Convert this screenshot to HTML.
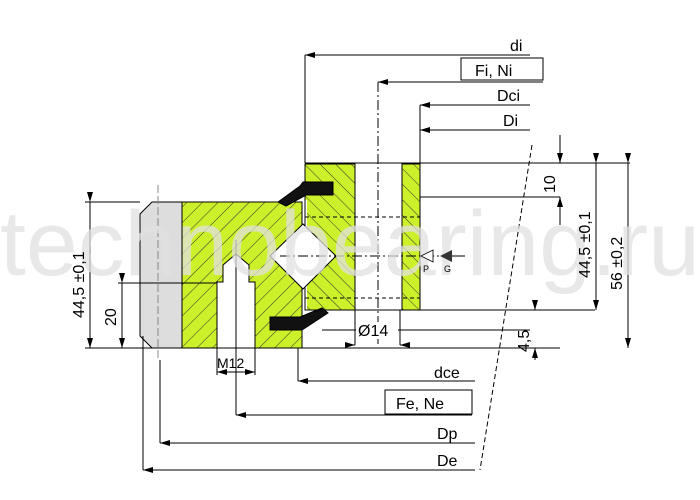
<!DOCTYPE html>
<html><head><style>body{margin:0;background:#fff}svg{display:block}</style></head><body>
<svg width="700" height="500" viewBox="0 0 700 500" xmlns="http://www.w3.org/2000/svg" font-family="Liberation Sans, sans-serif">
<defs>
<pattern id="h" width="11" height="11" patternUnits="userSpaceOnUse" patternTransform="rotate(45)">
<rect width="11" height="11" fill="#ccf02a"/><line x1="0" y1="0" x2="0" y2="11" stroke="#333" stroke-width="1"/></pattern>
<pattern id="h2" width="11" height="11" patternUnits="userSpaceOnUse" patternTransform="rotate(-45)">
<rect width="11" height="11" fill="#ccf02a"/><line x1="0" y1="0" x2="0" y2="11" stroke="#333" stroke-width="1"/></pattern>
<marker id="a" markerWidth="10" markerHeight="6" refX="10" refY="3" orient="auto" markerUnits="userSpaceOnUse"><path d="M0,0 L10,3 L0,6z" fill="#000"/></marker>
</defs>
<g stroke="#000" stroke-width="1" fill="none">
<path d="M152,202 L182,202 L182,348 L152,348 L140,336 L140,214 Z" fill="#ddd"/>
<line x1="158" y1="185" x2="158" y2="360" stroke="#888" stroke-dasharray="8,3"/>
<path d="M182,202 L302,202 L302,348 L182,348 Z" fill="url(#h)"/>
<rect x="305" y="164" width="50" height="146" fill="url(#h2)"/>
<rect x="402" y="164" width="18" height="146" fill="url(#h2)"/>
<rect x="303" y="200" width="4" height="110" fill="#fff" stroke="none"/>
<line x1="302" y1="202" x2="302" y2="348"/>
<line x1="305" y1="164" x2="305" y2="310"/>
<path d="M303,224 L336,256 L303,289 L270,256 Z" fill="#fff"/>
<path d="M217,348 L217,282 L223,282 L223,265 L236,254 L249,265 L249,282 L255,282 L255,348" fill="#fff"/>
<line x1="236" y1="240" x2="236" y2="375"/>
<path d="M303,182 L333,182 L333,195 L306,195 L286,206 L278,202 L300,186Z" fill="#111"/>
<path d="M270,317 L300,317 L322,308 L328,313 L302,330 L270,330Z" fill="#111"/>
<line x1="305" y1="163" x2="630" y2="163"/>
<line x1="420" y1="197" x2="560" y2="197"/>
<line x1="305" y1="310" x2="595" y2="310"/>
<line x1="85" y1="202" x2="140" y2="202"/>
<line x1="85" y1="348" x2="560" y2="348"/>
<line x1="118" y1="283" x2="217" y2="283"/>
<line x1="305" y1="217" x2="420" y2="217" stroke-dasharray="4,3"/>
<line x1="305" y1="298" x2="420" y2="298" stroke-dasharray="4,3"/>
<line x1="280" y1="256" x2="460" y2="256" stroke-dasharray="10,3,2,3"/>
<line x1="378" y1="82" x2="378" y2="345" stroke-dasharray="10,3,2,3"/>
<line x1="532" y1="145" x2="480" y2="470" stroke-dasharray="5,3"/>
<line x1="305" y1="55" x2="305" y2="163"/>
<line x1="530" y1="55" x2="305" y2="55" marker-end="url(#a)"/>
<rect x="461" y="58" width="82" height="22"/>
<line x1="543" y1="82" x2="378" y2="82" marker-end="url(#a)"/>
<line x1="420" y1="105" x2="420" y2="163"/>
<line x1="530" y1="105" x2="420" y2="105" marker-end="url(#a)"/>
<line x1="530" y1="130" x2="420" y2="130" marker-end="url(#a)"/>
<line x1="560" y1="135" x2="560" y2="163" marker-end="url(#a)"/>
<line x1="560" y1="225" x2="560" y2="197" marker-end="url(#a)"/>
<line x1="596" y1="163" x2="596" y2="310" marker-start="url(#a)" marker-end="url(#a)"/>
<line x1="628" y1="163" x2="628" y2="348" marker-start="url(#a)" marker-end="url(#a)"/>
<line x1="535" y1="300" x2="535" y2="310" marker-end="url(#a)"/>
<line x1="535" y1="360" x2="535" y2="348" marker-end="url(#a)"/>
<line x1="90" y1="202" x2="90" y2="348" marker-start="url(#a)" marker-end="url(#a)"/>
<line x1="122" y1="283" x2="122" y2="348" marker-start="url(#a)" marker-end="url(#a)"/>
<line x1="322" y1="330" x2="530" y2="330"/>
<rect x="356" y="322" width="42" height="17" fill="#fff" stroke="none"/>
<line x1="355" y1="310" x2="355" y2="345"/>
<line x1="400" y1="310" x2="400" y2="345"/>
<line x1="345" y1="345" x2="355" y2="345" marker-end="url(#a)"/>
<line x1="410" y1="345" x2="400" y2="345" marker-end="url(#a)"/>
<line x1="217" y1="348" x2="217" y2="375"/>
<line x1="255" y1="348" x2="255" y2="375"/>
<line x1="236" y1="372" x2="217" y2="372" marker-end="url(#a)"/>
<line x1="236" y1="372" x2="255" y2="372" marker-end="url(#a)"/>
<line x1="298" y1="348" x2="298" y2="381"/>
<line x1="475" y1="381" x2="298" y2="381" marker-end="url(#a)"/>
<rect x="385" y="390" width="87" height="24"/>
<line x1="236" y1="375" x2="236" y2="415"/>
<line x1="472" y1="415" x2="236" y2="415" marker-end="url(#a)"/>
<line x1="160" y1="360" x2="160" y2="443"/>
<line x1="475" y1="443" x2="160" y2="443" marker-end="url(#a)"/>
<line x1="143" y1="336" x2="143" y2="470"/>
<line x1="475" y1="470" x2="143" y2="470" marker-end="url(#a)"/>
</g>
<text x="0" y="275" font-size="92" fill="#e0e0e0" fill-opacity="0.75" textLength="700" lengthAdjust="spacingAndGlyphs">technobearing.ru</text>
<path d="M421,256 L433,250 L433,262Z" fill="#fff" stroke="#000" stroke-width="0.8"/>
<path d="M440,256 L452,250 L452,262Z" fill="#333"/>
<line x1="452" y1="256" x2="465" y2="256" stroke="#000"/>
<g font-size="16" fill="#000">
<text x="510" y="51">di</text>
<text x="475" y="76">Fi, Ni</text>
<text x="497" y="101">Dci</text>
<text x="503" y="126">Di</text>
<text x="434" y="378">dce</text>
<text x="396" y="409">Fe, Ne</text>
<text x="437" y="439">Dp</text>
<text x="437" y="466">De</text>
<text x="217" y="368" font-size="14">M12</text>
<text x="358" y="336">Ø14</text>
<text transform="translate(555,193) rotate(-90)">10</text>
<text transform="translate(590,278) rotate(-90)">44,5 ±0,1</text>
<text transform="translate(622,290) rotate(-90)">56 ±0,2</text>
<text transform="translate(529,352) rotate(-90)">4,5</text>
<text transform="translate(84,318) rotate(-90)">44,5 ±0,1</text>
<text transform="translate(116,326) rotate(-90)">20</text>
<text x="423" y="272" font-size="9">P</text>
<text x="444" y="272" font-size="9">G</text>
</g>
</svg>
</body></html>
